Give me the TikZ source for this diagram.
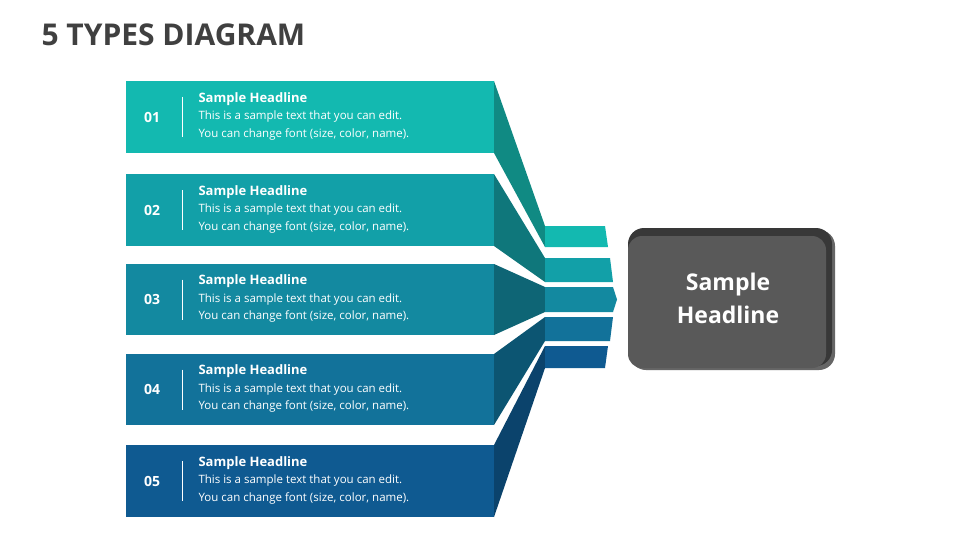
\documentclass[tikz,border=0pt]{standalone}
\usepackage{fontspec}
\setmainfont{Open Sans}
\begin{document}
\begin{tikzpicture}[x=1pt,y=-1pt,
  num/.style={text=white,font=\bfseries\fontsize{14}{16}\selectfont},
  head/.style={anchor=west,text=white,font=\bfseries\fontsize{13}{15}\selectfont},
  body/.style={anchor=west,text=white,font=\fontsize{11.5}{13}\selectfont}]
\definecolor{cA}{HTML}{13B9B0}\definecolor{cB}{HTML}{12A0A8}\definecolor{cC}{HTML}{1389A0}
\definecolor{cD}{HTML}{12729A}\definecolor{cE}{HTML}{0F5A91}
\definecolor{dA}{HTML}{108A83}\definecolor{dB}{HTML}{0F777B}\definecolor{dC}{HTML}{0E6575}
\definecolor{dD}{HTML}{0C5572}\definecolor{dE}{HTML}{0B436C}
\fill[white] (0,0) rectangle (960,540);
\node[anchor=west,text=black!75,font=\bfseries\fontsize{30}{34}\selectfont] (title) at (38,35) {5 TYPES DIAGRAM};
% bars
\foreach \i/\t/\b/\c/\d/\st/\sb/\rt/\rb/\n in {1/81/153/cA/dA/226/247/605/608/01,2/174/246/cB/dB/258/282/610/613/02,4/354/425/cD/dD/317/341/613/610/04,5/445/517/cE/dE/346/368/608/605/05}{
  \fill[\d] (494,\t) -- (545,\st) -- (545,\sb) -- (494,\b) -- cycle;
  \fill[\c] (126,\t) rectangle (494,\b);
  \fill[\c] (545,\st) -- (\rt,\st) -- (\rb,\sb) -- (545,\sb) -- cycle;
  \node[num] (n\i) at (152,{(\t+\b)/2}) {\n};
  \draw[white,line width=1pt] (182,{(\t+\b)/2-20}) -- (182,{(\t+\b)/2+20});
  \node[head] (h\i) at (195,{(\t+\b)/2-18}) {Sample Headline};
  \node[body] (a\i) at (195,{(\t+\b)/2+0}) {This is a sample text that you can edit.};
  \node[body] (b\i) at (195,{(\t+\b)/2+17}) {You can change font (size, color, name).};
}
\fill[dC] (494,264) -- (545,287) -- (545,312) -- (494,335) -- cycle;
\fill[cC] (126,264) rectangle (494,335);
\fill[cC] (545,287) -- (613,287) -- (617,299.5) -- (613,312) -- (545,312) -- cycle;
\node[num] (n3) at (152,299.5) {03};
\draw[white,line width=1pt] (182,279.5) -- (182,319.5);
\node[head] (h3) at (195,281.5) {Sample Headline};
\node[body] (a3) at (195,299.5) {This is a sample text that you can edit.};
\node[body] (b3) at (195,316.5) {You can change font (size, color, name).};
% gray box
\fill[black!60,rounded corners=16pt] (630,230) rectangle (835,370);
\fill[black!78,rounded corners=16pt] (628,228) rectangle (832,366);
\fill[black!65,rounded corners=14pt] (628,236) rectangle (826,368);
\node[text=white,font=\bfseries\fontsize{23}{33}\selectfont,align=center] (main) at (728,298) {Sample\\Headline};
\end{tikzpicture}
\end{document}
